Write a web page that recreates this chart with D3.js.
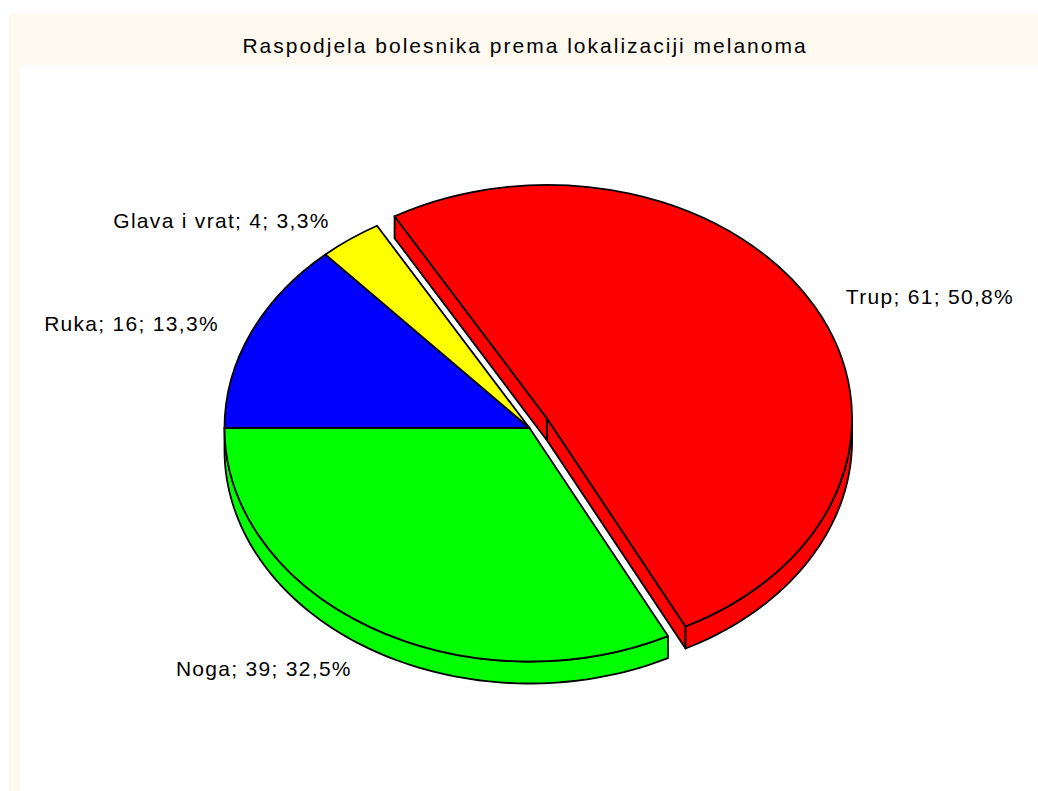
<!DOCTYPE html>
<html>
<head>
<meta charset="utf-8">
<script src="https://cdn.jsdelivr.net/npm/d3@7"></script>
<style>
    body { margin: 0; background: #fff; }
    text { font-family: "Liberation Sans", Arial, sans-serif; fill: #000; }
</style>
</head>
<body>
<svg id="chart" width="1038" height="791"></svg>
<script>
// data
let title = "Raspodjela bolesnika prema lokalizaciji melanoma";
let categories = ["Trup", "Noga", "Ruka", "Glava i vrat"];
let counts = [61, 39, 16, 4];
let colors = ["#ff0000", "#00ff00", "#0000ff", "#ffff00"];
let exploded = [true, false, false, false];

let width = 1038, height = 791;
let cx = 529.5, cy = 428;      // pie centre
let rx = 305, ry = 233.5;      // ellipse radii of the top face
let depth = 22;                // thickness of the pie
let explodeDist = 20;
let labelRx = 340, labelRy = 256;
let strokeW = 1.8;

let svg = d3.select("#chart");

// cream frame round the plot
svg.append("rect").attr("x", 9).attr("y", 13).attr("width", width - 9).attr("height", 52).attr("fill", "#fffaf0");
svg.append("rect").attr("x", 9).attr("y", 13).attr("width", 11).attr("height", height - 13).attr("fill", "#fffaf0");

svg.append("text")
    .attr("x", 525).attr("y", 53)
    .attr("text-anchor", "middle")
    .style("font-size", "21px")
    .style("letter-spacing", "2px")
    .text(title);

let total = d3.sum(counts);
let fmtPct = v => d3.format(".1f")(v).replace(".", ",");

let data = categories.map((c, i) => ({ name: c, count: counts[i], color: colors[i], exploded: exploded[i] }));

let pie = d3.pie()
    .sort(null)
    .value(d => d.count)
    .startAngle(-Math.PI / 6)
    .endAngle(2 * Math.PI - Math.PI / 6);

let arcs = pie(data);

arcs.forEach(a => {
    let mid = (a.startAngle + a.endAngle) / 2;
    a.mid = mid;
    a.ox = a.data.exploded ? explodeDist * Math.sin(mid) : 0;
    a.oy = a.data.exploded ? -explodeDist * Math.cos(mid) : 0;
});

function pt(a, t, z) {
    return [cx + a.ox + rx * Math.sin(t), cy + a.oy - ry * Math.cos(t) + z];
}

let line = d3.line();
let sideG = svg.append("g");
let topG = svg.append("g");

// radial faces in the gap of an exploded slice
arcs.forEach((a, i) => {
    let prev = arcs[(i + arcs.length - 1) % arcs.length];
    let next = arcs[(i + 1) % arcs.length];
    let faces = [];
    if (Math.sin(a.startAngle) < 0 && (a.data.exploded || prev.data.exploded)) faces.push(a.startAngle);
    if (Math.sin(a.endAngle) > 0 && (a.data.exploded || next.data.exploded)) faces.push(a.endAngle);
    faces.forEach(t => {
        let c0 = [cx + a.ox, cy + a.oy];
        let p = [c0, pt(a, t, 0), pt(a, t, depth), [c0[0], c0[1] + depth]];
        sideG.append("path")
            .attr("d", line(p) + "Z")
            .attr("fill", a.data.color)
            .attr("stroke", "#000")
            .attr("stroke-width", strokeW)
            .attr("stroke-linejoin", "round");
    });
});

// outer walls, only the front half is seen
arcs.forEach(a => {
    let lo = Math.max(a.startAngle, Math.PI / 2);
    let hi = Math.min(a.endAngle, 3 * Math.PI / 2);
    if (hi <= lo) return;
    let ts = d3.range(0, 81).map(k => lo + (hi - lo) * k / 80);
    let p = ts.map(t => pt(a, t, 0)).concat(ts.slice().reverse().map(t => pt(a, t, depth)));
    sideG.append("path")
        .attr("d", line(p) + "Z")
        .attr("fill", a.data.color)
        .attr("stroke", "#000")
        .attr("stroke-width", strokeW)
        .attr("stroke-linejoin", "round");
});

// top faces
let arc = d3.arc().innerRadius(0).outerRadius(rx);
topG.selectAll("path")
    .data(arcs)
    .enter().append("path")
    .attr("d", arc)
    .attr("transform", d => "translate(" + (cx + d.ox) + "," + (cy + d.oy) + ") scale(1," + (ry / rx) + ")")
    .attr("fill", d => d.data.color)
    .attr("stroke", "#000")
    .attr("stroke-width", strokeW)
    .attr("stroke-linejoin", "round")
    .attr("vector-effect", "non-scaling-stroke");

// labels
svg.append("g").selectAll("text")
    .data(arcs)
    .enter().append("text")
    .attr("x", d => cx + d.ox + labelRx * Math.sin(d.mid))
    .attr("y", d => cy + d.oy - labelRy * Math.cos(d.mid) + (Math.cos(d.mid) < 0 ? depth : 0))
    .attr("dy", "0.35em")
    .attr("text-anchor", d => Math.sin(d.mid) > 0 ? "start" : "end")
    .style("font-size", "21px")
    .style("letter-spacing", "1.3px")
    .text(d => d.data.name + "; " + d.data.count + "; " + fmtPct(d.data.count / total * 100) + "%");
</script>
</body>
</html>
